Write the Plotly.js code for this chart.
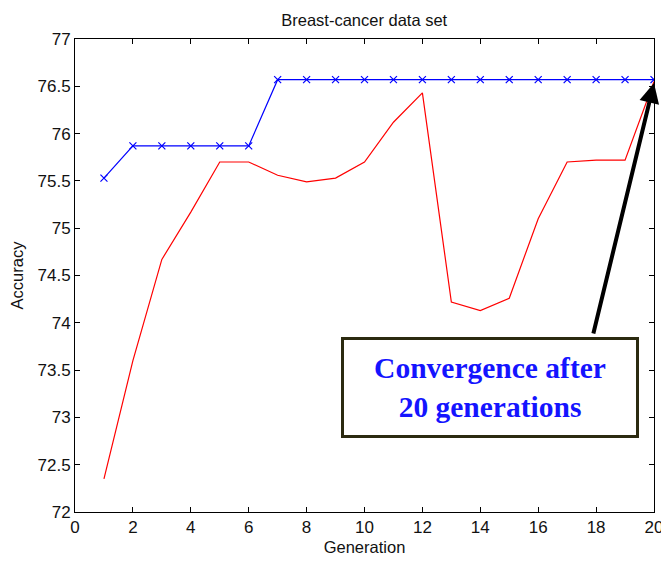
<!DOCTYPE html>
<html>
<head>
<meta charset="utf-8">
<script src="https://cdn.plot.ly/plotly-3.0.1.min.js"></script>
<style>html,body{margin:0;padding:0;background:#fff;}#chart{width:661px;height:562px;}</style>
</head>
<body>
<div id="chart"></div>
<script>
const generations = [1,2,3,4,5,6,7,8,9,10,11,12,13,14,15,16,17,18,19,20];
const bestAccuracy = [75.53,75.87,75.87,75.87,75.87,75.87,76.57,76.57,76.57,76.57,76.57,76.57,76.57,76.57,76.57,76.57,76.57,76.57,76.57,76.57];
const meanAccuracy = [72.35,73.6,74.67,75.17,75.7,75.7,75.56,75.49,75.53,75.7,76.12,76.43,74.22,74.13,74.26,75.1,75.7,75.72,75.72,76.55];
const xTicks = [0,2,4,6,8,10,12,14,16,18,20];
const yTicks = [72,72.5,73,73.5,74,74.5,75,75.5,76,76.5,77];

const traces = [
  {x: generations, y: meanAccuracy, mode: 'lines', line: {color: '#ff0000', width: 1.2}, hoverinfo: 'skip'},
  {x: generations, y: bestAccuracy, mode: 'lines+markers', line: {color: '#0000ff', width: 1.2},
   marker: {symbol: 'x-thin-open', size: 7, color: '#0000ff', line: {color: '#0000ff', width: 1.2}}, hoverinfo: 'skip'}
];

const FONT = 'Liberation Sans, Arial, sans-serif';
const axisCommon = {
  showline: true, linecolor: '#000', linewidth: 1, mirror: 'allticks',
  ticks: 'inside', ticklen: 5, tickcolor: '#000', tickwidth: 1,
  showgrid: false, zeroline: false, ticklabeloverflow: 'allow',
  tickfont: {family: FONT, size: 17, color: '#111'}
};

const layout = {
  width: 661, height: 562,
  margin: {l: 75, r: 7, t: 39, b: 50},
  paper_bgcolor: '#fff', plot_bgcolor: '#fff',
  showlegend: false,
  title: {text: 'Breast-cancer data set', font: {family: FONT, size: 16.5, color: '#111'}, x: 0.551, xanchor: 'center', y: 0.964, yanchor: 'middle'},
  xaxis: Object.assign({}, axisCommon, {range: [0, 20], tickvals: xTicks, ticktext: xTicks.map(String),
    title: {text: 'Generation', font: {family: FONT, size: 16.5, color: '#111'}, standoff: 5}}),
  yaxis: Object.assign({}, axisCommon, {range: [72, 77], tickvals: yTicks, ticktext: yTicks.map(String),
    title: {text: 'Accuracy', font: {family: FONT, size: 16.5, color: '#111'}, standoff: 9}}),
  annotations: [
    {xref: 'x', yref: 'y', x: 20, y: 76.535, axref: 'pixel', ayref: 'pixel', ax: -61, ay: 252,
     text: '', showarrow: true, arrowhead: 2, arrowsize: 1, arrowwidth: 4, arrowcolor: '#000', standoff: 0},
    {xref: 'paper', yref: 'paper', x: 0.7168, y: 0.263, xanchor: 'center', yanchor: 'middle',
     text: '<b>Convergence after<br>20 generations</b>', showarrow: false,
     font: {family: 'Liberation Serif, Times New Roman, serif', size: 29.5, color: '#1414ff'},
     bgcolor: '#fff', bordercolor: '#2b2a10', borderwidth: 3, borderpad: 0,
     width: 292, height: 95, align: 'center'}
  ]
};

Plotly.newPlot('chart', traces, layout, {displayModeBar: false, staticPlot: true});
</script>
</body>
</html>
